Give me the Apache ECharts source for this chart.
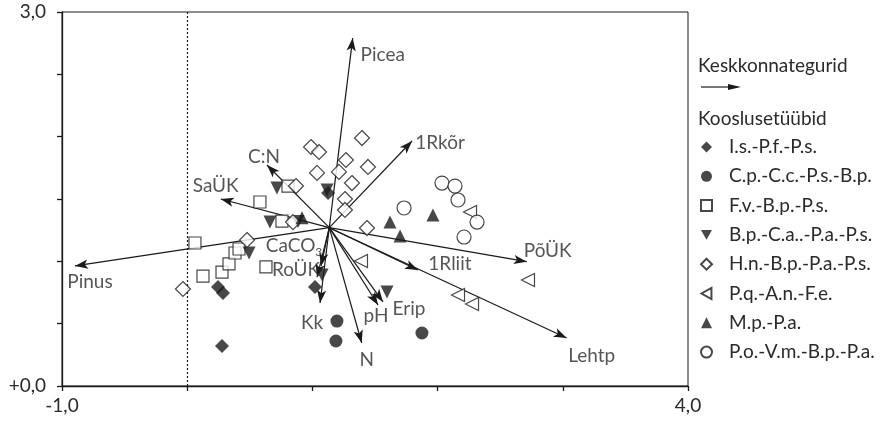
<!DOCTYPE html>
<html><head><meta charset="utf-8">
<script src="https://cdn.jsdelivr.net/npm/echarts@6/dist/echarts.min.js"></script>
<style>html,body{margin:0;padding:0;background:#fff}#c{width:892px;height:423px}</style>
</head><body><div id="c"></div>
<script>
// ---- data ----
const origin = [1.135, 1.27];
const vectorNames = ['Picea','1Rkõr','C:N','SaÜK','Pinus','CaCO3','RoÜK','Kk','pH','Erip','N','1Rliit','PõÜK','Lehtp'];
const vectorX = [1.322, 1.796, 0.637, 0.268, -0.896, 1.069, 1.037, 1.061, 1.524, 1.564, 1.394, 1.843, 2.712, 3.031];
const vectorY = [2.791, 1.965, 1.773, 1.500, 0.963, 0.963, 0.874, 0.666, 0.650, 0.674, 0.345, 0.930, 0.997, 0.385];

const groupNames = ['I.s.-P.f.-P.s.','C.p.-C.c.-P.s.-B.p.','F.v.-B.p.-P.s.','B.p.-C.a..-P.a.-P.s.','H.n.-B.p.-P.a.-P.s.','P.q.-A.n.-F.e.','M.p.-P.a.','P.o.-V.m.-B.p.-P.a.'];
const isPfPs = [[0.278,0.321],[0.246,0.794],[0.286,0.746],[1.021,0.794],[1.125,1.548]];
const cpCcPsBp = [[1.196,0.521],[1.188,0.361],[1.875,0.425]];
const fvBpPs = [[0.062,1.147],[0.126,0.882],[0.278,0.914],[0.334,0.979],[0.382,1.067],[0.414,1.099],[0.581,1.476],[0.629,0.955],[0.805,1.604],[0.757,1.323]];
const bpCaPaPs = [[0.717,1.588],[0.661,1.315],[0.494,1.067],[0.885,1.320],[1.077,0.890],[1.596,0.754],[1.117,1.572]];
const hnBpPaPs = [[0.989,1.917],[1.053,1.877],[1.396,1.989],[1.268,1.813],[1.037,1.709],[1.212,1.717],[1.444,1.757],[1.316,1.628],[1.260,1.500],[1.260,1.412],[1.436,1.267],[0.869,1.604],[0.845,1.315],[0.478,1.171],[-0.034,0.778]];
const pqAnFe = [[2.259,1.396],[2.722,0.850],[2.163,0.730],[2.275,0.658],[1.388,1.003]];
const mpPa = [[1.620,1.315],[1.963,1.372],[1.700,1.203],[0.917,1.350]];
const poVmBpPa = [[1.732,1.428],[2.035,1.628],[2.139,1.604],[2.163,1.492],[2.315,1.315],[2.211,1.195]];

const xTickLabels = {'-1':'-1,0','4':'4,0'};
const yTickLabels = {'0':'+0,0','3':'3,0'};

// ---- styles / positions ----
const FONT = 'Lato';
const FS = 19;
const INK = '#1a1a1a';
const TXT = '#2a2a2a';
const labelOffsets = [[30,17],[28,2],[-3,-8],[-5,-13],[15,16],[-27,-20],[-21,-7],[-8,20],[-2,11],[26,7],[5,17],[32,-6],[21,-11],[25,18]];

const DOWN = 'path://M0,0L10,0L5,9Z';
const LEFT = 'path://M9,0L9,10L0,5Z';
const filled = {color: INK, borderWidth: 0};
const open = {color: '#fff', borderColor: INK, borderWidth: 1.2};

function sc(name, data, symbol, size, style) {
  return {
    type: 'scatter', name, data, symbol, symbolSize: size, itemStyle: style, z: 5,
    emphasis: {disabled: true}, animation: false
  };
}

const arrowData = vectorNames.map((n, i) => ({coords: [origin, [vectorX[i], vectorY[i]]]}));
const labelData = vectorNames.map((n, i) => ({
  name: n, value: [vectorX[i], vectorY[i]],
  label: {offset: labelOffsets[i]}
}));

const series = [
  {
    type: 'lines', coordinateSystem: 'cartesian2d', data: arrowData, z: 3,
    symbol: ['none', 'arrow'], symbolSize: [1, [7, 13]],
    lineStyle: {color: INK, width: 1.2, opacity: 1, curveness: 0},
    silent: true, animation: false
  },
  {
    type: 'scatter', name: 'vecLabels', data: labelData, symbolSize: 1, z: 6,
    itemStyle: {color: 'transparent'}, silent: true, animation: false,
    label: {
      show: true, position: 'inside', color: TXT, fontFamily: FONT, fontSize: FS,
      formatter: p => p.name === 'CaCO3' ? '{a|CaCO}{s|3}' : p.name,
      rich: {a: {fontFamily: FONT, fontSize: FS, color: TXT}, s: {fontFamily: FONT, fontSize: 12, color: TXT, padding: [12, 0, 0, 0]}}
    },
    markLine: {
      silent: true, symbol: 'none', animation: false,
      lineStyle: {color: INK, type: [2, 2], width: 1.2},
      label: {show: false},
      data: [{xAxis: 0}]
    }
  },
  sc(groupNames[0], isPfPs, 'diamond', 14, filled),
  sc(groupNames[1], cpCcPsBp, 'circle', 13, filled),
  sc(groupNames[2], fvBpPs, 'rect', 12, open),
  sc(groupNames[3], bpCaPaPs, DOWN, 13, filled),
  sc(groupNames[4], hnBpPaPs, 'diamond', 15, open),
  sc(groupNames[5], pqAnFe, LEFT, 13, open),
  sc(groupNames[6], mpPa, 'triangle', 13, filled),
  sc(groupNames[7], poVmBpPa, 'circle', 14, open)
];

const chart = echarts.init(document.getElementById('c'));
chart.setOption({
  backgroundColor: '#fff',
  animation: false,
  textStyle: {fontFamily: FONT},
  grid: {left: 62, right: 204, top: 12, bottom: 37, show: true, borderColor: INK, borderWidth: 1},
  xAxis: {
    type: 'value', min: -1, max: 4, interval: 1,
    axisLine: {onZero: false, lineStyle: {color: INK, width: 1.3}},
    axisTick: {show: true, length: 5, lineStyle: {color: INK, width: 1.3}},
    splitLine: {show: false},
    axisLabel: {color: TXT, fontSize: FS, fontFamily: FONT, margin: 10, showMinLabel: true, showMaxLabel: true,
      formatter: v => xTickLabels[String(v)] || ''}
  },
  yAxis: {
    type: 'value', min: 0, max: 3, interval: 0.5,
    axisLine: {onZero: false, lineStyle: {color: INK, width: 1.3}},
    axisTick: {show: true, length: 5, lineStyle: {color: INK, width: 1.3}},
    splitLine: {show: false},
    axisLabel: {color: TXT, fontSize: FS, fontFamily: FONT, margin: 16, showMinLabel: true, showMaxLabel: true,
      formatter: v => yTickLabels[String(v)] || ''}
  },
  legend: {
    data: groupNames, orient: 'vertical', left: 700, top: 137, padding: 0,
    itemWidth: 11, itemHeight: 11, itemGap: 9.3, selectedMode: false,
    textStyle: {fontFamily: FONT, fontSize: FS, color: TXT, lineHeight: 20, padding: [0, 0, 0, 12]}
  },
  graphic: [
    {type: 'text', left: 698, top: 56, style: {text: 'Keskkonnategurid', font: FS + 'px Lato', fill: TXT}},
    {type: 'line', shape: {x1: 701, y1: 87, x2: 730, y2: 87}, style: {stroke: INK, lineWidth: 1.2}},
    {type: 'polygon', shape: {points: [[741, 87], [728, 84], [728, 90]]}, style: {fill: INK}},
    {type: 'text', left: 698, top: 109, style: {text: 'Kooslusetüübid', font: FS + 'px Lato', fill: TXT}}
  ],
  series
});
</script>
</body></html>
